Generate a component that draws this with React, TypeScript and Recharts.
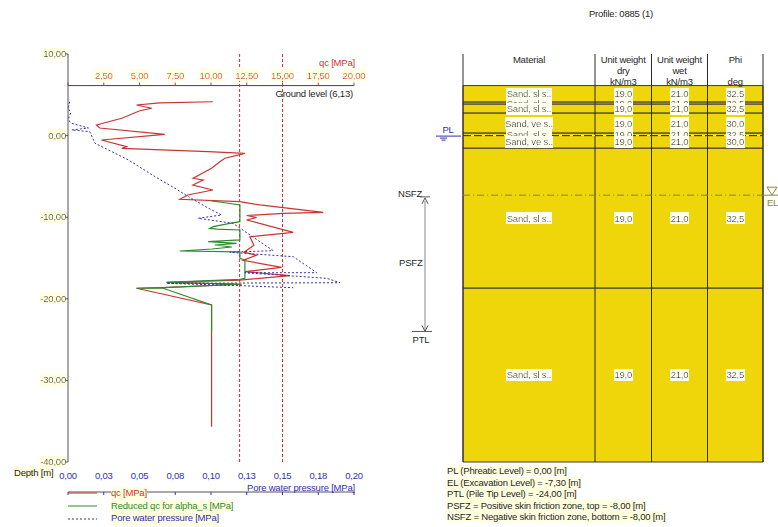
import React from 'react';
import {
  ScatterChart,
  Scatter,
  XAxis,
  YAxis,
  ReferenceLine,
  ReferenceArea,
  Legend,
} from 'recharts';

const FONT = '"Liberation Sans", Arial, sans-serif';
const RED = '#cc3333';
const GREEN = '#2e8b2e';
const BLUE = '#3030b0';
const YELLOW = '#efd60b';
const INK = '#262626';

// CPT readings: [depth m, qc MPa]
const qcReadings: [number, number][] = [
  [4.15, 10.13], [4.0, 6.42], [3.75, 4.79], [3.35, 5.86], [3.05, 5.02],
  [2.12, 3.76], [1.3, 1.99], [0.93, 2.22], [0.16, 6.77], [-0.54, 2.34],
  [-1.36, 4.09], [-1.56, 3.76], [-1.97, 9.8], [-2.17, 12.37], [-2.78, 10.97],
  [-3.2, 10.62], [-4.0, 10.04], [-5.23, 8.75], [-5.44, 9.45], [-6.05, 8.73],
  [-6.67, 10.13], [-7.28, 8.38], [-7.81, 7.82], [-8.1, 12.02], [-8.5, 13.42],
  [-9.4, 17.85], [-9.52, 15.05], [-9.79, 12.49], [-10.04, 13.19], [-10.34, 12.49],
  [-11.85, 15.75], [-12.39, 12.72], [-13.43, 13.0], [-14.29, 12.3], [-14.66, 13.19],
  [-15.29, 12.25], [-16.14, 14.94], [-16.68, 12.37], [-17.17, 15.52], [-17.7, 12.02],
  [-17.98, 6.89], [-18.22, 12.16], [-18.64, 6.65], [-18.71, 4.79], [-20.76, 10.04],
  [-35.67, 10.04],
];

// reduced qc for alpha_s: [depth m, qc MPa]
const reducedQcReadings: [number, number][] = [
  [-8.0, 10.04], [-8.2, 10.85], [-8.5, 12.02], [-10.55, 12.02], [-10.75, 11.32],
  [-11.16, 10.15], [-11.36, 9.92], [-11.45, 10.39], [-11.57, 12.02], [-12.79, 12.02],
  [-13.0, 9.8], [-13.2, 11.79], [-13.41, 10.27], [-13.65, 11.46], [-13.9, 10.06],
  [-14.14, 7.82], [-14.26, 12.02], [-15.04, 12.02], [-15.25, 12.37], [-17.49, 12.37],
  [-17.61, 12.02], [-17.98, 6.89], [-18.22, 12.02], [-18.64, 6.65], [-18.71, 4.79],
  [-18.71, 6.65], [-20.76, 10.04], [-24.0, 10.04],
];

// pore water pressure: [depth m, u MPa]
const poreReadings: [number, number][] = [
  [4.15, 0.0012], [3.38, 0.0001], [2.77, 0.0019], [2.16, 0.0005], [1.7, 0.0012],
  [1.51, 0.0026], [0.93, 0.0143], [0.69, 0.0026], [0.48, 0.0152], [-0.94, 0.0189],
  [-1.76, 0.0283], [-2.99, 0.0423], [-5.04, 0.0609], [-6.46, 0.0749], [-7.49, 0.0843],
  [-8.91, 0.0983], [-9.73, 0.1074], [-10.13, 0.091], [-10.75, 0.1153], [-13.0, 0.1342],
  [-14.1, 0.1435], [-14.3, 0.1132], [-14.84, 0.1575], [-16.8, 0.1739], [-16.8, 0.1237],
  [-17.49, 0.1809], [-18.03, 0.1902], [-18.1, 0.0689], [-18.39, 0.1202], [-18.64, 0.1575],
];

const depthTicks = [10, 0, -10, -20, -30, -40];
const depthLabels = ['10,00', '0,00', '-10,00', '-20,00', '-30,00', '-40,00'];
const qcTicks = [0, 2.5, 5, 7.5, 10, 12.5, 15, 17.5, 20];
const qcLabels = ['', '2,50', '5,00', '7,50', '10,00', '12,50', '15,00', '17,50', '20,00'];
const poreTicks = [0, 0.025, 0.05, 0.075, 0.1, 0.125, 0.15, 0.175, 0.2];
const poreLabels = ['0,00', '0,03', '0,05', '0,08', '0,10', '0,13', '0,15', '0,18', '0,20'];
const qcLimits = [12, 15];
const groundLevel = 6.13;

// soil profile
const layerTops = [6.13, 4.1, 3.85, 2.75, 0.3, 0.0, -1.55, -18.7];
const layerBottoms = [4.1, 3.85, 2.75, 0.3, 0.0, -1.55, -18.7, -40];
const layerMaterials = [
  'Sand, sl s..', 'Sand, sl s..', 'Sand, sl s..', 'Sand, ve s..',
  'Sand, sl s..', 'Sand, ve s..', 'Sand, sl s..', 'Sand, sl s..',
];
const unitWeightDry = [19, 19, 19, 19, 19, 19, 19, 19];
const unitWeightWet = [21, 21, 21, 21, 21, 21, 21, 21];
const phiValues = [32.5, 32.5, 32.5, 30, 32.5, 30, 32.5, 32.5];
const headerLines = [
  ['Material'],
  ['Unit weight', 'dry', 'kN/m3'],
  ['Unit weight', 'wet', 'kN/m3'],
  ['Phi', '', 'deg'],
];

const phreaticLevel = 0;
const excavationLevel = -7.3;
const pileTipLevel = -24;
const frictionBoundary = -8; // PSFZ top = NSFZ bottom

// table layout (x in table units = px)
const TABLE_W = 300;
const colEdges = [0, 132, 188.5, 244.5, TABLE_W];
const ZONE_X = -38;

const fmt = (v: number, d: number) => v.toFixed(d).replace('.', ',');

const notes = [
  `PL (Phreatic Level) = ${fmt(phreaticLevel, 2)} [m]`,
  `EL (Excavation Level) = ${fmt(excavationLevel, 2)} [m]`,
  `PTL (Pile Tip Level) = ${fmt(pileTipLevel, 2)} [m]`,
  `PSFZ = Positive skin friction zone, top = ${fmt(frictionBoundary, 2)} [m]`,
  `NSFZ = Negative skin friction zone, bottom = ${fmt(frictionBoundary, 2)} [m]`,
];

const legendSeries = [
  { name: 'qc [MPa]', color: RED, dash: undefined as string | undefined },
  { name: 'Reduced qc for alpha_s [MPa]', color: GREEN, dash: undefined },
  { name: 'Pore water pressure [MPa]', color: BLUE, dash: '2 2' },
];

const toPoints = (rows: [number, number][]) => rows.map(([y, x]) => ({ x, y }));
const qcPoints = toPoints(qcReadings);
const reducedPoints = toPoints(reducedQcReadings);
const porePoints = toPoints(poreReadings);
const qcTickPoints = qcTicks.map((x, i) => ({ x, y: groundLevel, label: qcLabels[i] }));

const headerPoints = headerLines.map((lines, c) => ({
  x: (colEdges[c] + colEdges[c + 1]) / 2,
  y: 10,
  lines,
}));

const cellPoints = layerTops.flatMap((top, i) => {
  const y = (top + layerBottoms[i]) / 2;
  const texts = [layerMaterials[i], fmt(unitWeightDry[i], 1), fmt(unitWeightWet[i], 1), fmt(phiValues[i], 1)];
  return texts.map((text, c) => ({ x: (colEdges[c] + colEdges[c + 1]) / 2, y, text }));
});

const levelPoints = [
  { x: 0, y: phreaticLevel, kind: 'PL' },
  { x: TABLE_W, y: excavationLevel, kind: 'EL' },
  { x: 0, y: frictionBoundary, kind: 'NSFZ' },
  { x: 0, y: (frictionBoundary + pileTipLevel) / 2, kind: 'PSFZ' },
  { x: 0, y: pileTipLevel, kind: 'PTL' },
];

const noMarker = () => <g />;

const DepthTick = (p: any) => (
  <text x={p.x} y={p.y + 3} textAnchor="end" fontSize={9.5} fill={INK} filter="url(#paleBg)">
    {depthLabels[depthTicks.indexOf(p.payload.value)]}
  </text>
);

const PoreTick = (p: any) => (
  <text x={p.x} y={p.y - 18} textAnchor="middle" fontSize={9.5} fill={BLUE}>
    {poreLabels[poreTicks.indexOf(p.payload.value)]}
  </text>
);

const QcTickLabel = (p: any) => (
  <g>
    <line x1={p.cx} x2={p.cx} y1={p.cy} y2={p.cy - 3} stroke={RED} />
    {p.payload.label && (
      <text x={p.cx} y={p.cy - 6.6} textAnchor="middle" fontSize={9.5} fill={RED} filter="url(#paleBg)">
        {p.payload.label}
      </text>
    )}
  </g>
);

const HeaderText = (p: any) => (
  <text textAnchor="middle" fontSize={9.5} fill={INK}>
    {p.payload.lines.map((l: string, k: number) => (
      <tspan key={k} x={p.cx} y={p.cy + 8.6 + 11 * k}>{l}</tspan>
    ))}
  </text>
);

const CellText = (p: any) => (
  <text x={p.cx} y={p.cy + 3.4} textAnchor="middle" fontSize={9.5} fill="#111" filter="url(#cellBg)">
    {p.payload.text}
  </text>
);

const LevelMark = (p: any) => {
  const { cx, cy } = p;
  const zx = cx + ZONE_X;
  switch (p.payload.kind) {
    case 'PL':
      return (
        <g stroke={BLUE} fill="none">
          <text x={cx - 15} y={cy - 2.3} textAnchor="middle" fontSize={9.5} fill={BLUE} stroke="none">PL</text>
          <line x1={cx - 27} x2={cx - 2} y1={cy + 0.5} y2={cy + 0.5} />
          <line x1={cx - 23} x2={cx - 16} y1={cy + 2.5} y2={cy + 2.5} />
          <line x1={cx - 21.5} x2={cx - 17.5} y1={cy + 4.5} y2={cy + 4.5} />
        </g>
      );
    case 'EL':
      return (
        <g stroke="#8c8c30" fill="none">
          <line x1={cx} x2={cx + 15} y1={cy} y2={cy} />
          <path d={`M${cx + 4},${cy - 8} L${cx + 14},${cy - 8} L${cx + 9},${cy} Z`} />
          <text x={cx + 9.5} y={cy + 11} textAnchor="middle" fontSize={9.5} fill="#8c8c30" stroke="none">EL</text>
        </g>
      );
    case 'NSFZ':
      return (
        <g stroke="#555" fill="none">
          <text x={zx - 3} y={cy - 3.5} textAnchor="end" fontSize={9.5} fill={INK} stroke="none">NSFZ</text>
          <line x1={zx - 5} x2={zx + 5} y1={cy - 4} y2={cy - 4} />
          <path d={`M${zx - 3},${cy + 3} L${zx},${cy - 3} L${zx + 3},${cy + 3}`} />
        </g>
      );
    case 'PSFZ':
      return (
        <text x={zx - 2.5} y={cy} textAnchor="end" fontSize={9.5} fill={INK}>PSFZ</text>
      );
    default:
      return (
        <g stroke="#555" fill="none">
          <line x1={zx - 13} x2={zx + 7} y1={cy} y2={cy} />
          <path d={`M${zx - 3},${cy - 6} L${zx},${cy} L${zx + 3},${cy - 6}`} />
          <text x={zx - 4} y={cy + 11.3} textAnchor="middle" fontSize={9.5} fill={INK} stroke="none">PTL</text>
        </g>
      );
  }
};

const renderLegend = () => (
  <div style={{ fontSize: 9.5, lineHeight: '12.7px' }}>
    {legendSeries.map((s) => (
      <div key={s.name} style={{ display: 'flex', alignItems: 'center', height: 12.7 }}>
        <svg width={29} height={4} style={{ display: 'block' }}>
          <line x1={0} x2={29} y1={2} y2={2} stroke={s.color} strokeDasharray={s.dash} />
        </svg>
        <span style={{ marginLeft: 14, color: s.color, background: '#ffffe0' }}>{s.name}</span>
      </div>
    ))}
  </div>
);

const GroundLabel = (props: any) => {
  const vb = props.viewBox;
  return (
    <text x={vb.x + vb.width - 1} y={vb.y + 11.2} textAnchor="end" fontSize={9.5} fill={INK}>
      {`Ground level (${fmt(groundLevel, 2)})`}
    </text>
  );
};

const abs = (left: number, top: number, extra: React.CSSProperties = {}): React.CSSProperties => ({
  position: 'absolute',
  left,
  top,
  whiteSpace: 'nowrap',
  lineHeight: '11px',
  ...extra,
});

export default function App() {
  return (
    <div
      style={{
        position: 'absolute',
        left: 0,
        top: 0,
        width: 778,
        height: 527,
        background: '#fff',
        fontFamily: FONT,
        fontSize: 9.5,
        letterSpacing: '-0.2px',
        color: INK,
        overflow: 'hidden',
      }}
    >
      <svg width={0} height={0} style={{ position: 'absolute' }}>
        <defs>
          <filter id="paleBg" x="0" y="0" width="1" height="1">
            <feFlood floodColor="#ffffe0" />
            <feComposite in="SourceGraphic" operator="over" />
          </filter>
          <filter id="cellBg" x="0" y="0" width="1" height="1">
            <feFlood floodColor="#fffff2" />
            <feComposite in="SourceGraphic" operator="over" />
          </filter>
        </defs>
      </svg>

      <div style={{ position: 'absolute', left: 0, top: 0 }}>
        <ScatterChart width={380} height={527} margin={{ top: 54, right: 26, bottom: 35, left: 8 }}>
          <XAxis xAxisId="qc" type="number" dataKey="x" domain={[0, 20]} ticks={qcTicks} hide />
          <XAxis
            xAxisId="u"
            type="number"
            dataKey="x"
            domain={[0, 0.2]}
            ticks={poreTicks}
            interval={0}
            height={30}
            tickSize={3}
            tickMargin={2}
            axisLine={{ stroke: '#555' }}
            tickLine={{ stroke: BLUE }}
            tick={PoreTick}
          />
          <YAxis
            type="number"
            dataKey="y"
            domain={[-40, 10]}
            ticks={depthTicks}
            interval={0}
            width={60}
            tickSize={2}
            tickMargin={0}
            axisLine={{ stroke: '#555' }}
            tickLine={{ stroke: '#555' }}
            tick={DepthTick}
          />
          <ReferenceLine xAxisId="qc" y={groundLevel} stroke="#444" label={GroundLabel} />
          {qcLimits.map((v) => (
            <ReferenceLine key={v} xAxisId="qc" x={v} stroke={RED} strokeDasharray="3 2" />
          ))}
          <Scatter
            name="qc [MPa]"
            data={qcPoints}
            xAxisId="qc"
            fill={RED}
            line={{ stroke: RED, strokeWidth: 1.2 }}
            lineType="joint"
            shape={noMarker}
            isAnimationActive={false}
          />
          <Scatter
            name="Reduced qc for alpha_s [MPa]"
            data={reducedPoints}
            xAxisId="qc"
            fill={GREEN}
            line={{ stroke: GREEN, strokeWidth: 1.2 }}
            lineType="joint"
            shape={noMarker}
            isAnimationActive={false}
          />
          <Scatter
            name="Pore water pressure [MPa]"
            data={porePoints}
            xAxisId="u"
            fill={BLUE}
            line={{ stroke: BLUE, strokeWidth: 1, strokeDasharray: '2 2' }}
            lineType="joint"
            shape={noMarker}
            isAnimationActive={false}
          />
          <Scatter
            data={qcTickPoints}
            xAxisId="qc"
            shape={QcTickLabel}
            legendType="none"
            isAnimationActive={false}
          />
          <Legend
            layout="horizontal"
            verticalAlign="middle"
            align="center"
            wrapperStyle={{ left: 68, top: 487, width: 290 }}
            content={renderLegend}
          />
        </ScatterChart>
      </div>

      <div style={{ position: 'absolute', left: 380, top: 0 }}>
        <ScatterChart width={398} height={527} margin={{ top: 54, right: 15, bottom: 65, left: 83 }}>
          <XAxis type="number" dataKey="x" domain={[0, TABLE_W]} hide />
          <YAxis type="number" dataKey="y" domain={[-40, 10]} hide />
          {layerTops.map((top, i) => (
            <ReferenceArea
              key={i}
              x1={0}
              x2={TABLE_W}
              y1={layerBottoms[i]}
              y2={top}
              fill={YELLOW}
              fillOpacity={1}
              stroke="#3a3a3a"
              strokeWidth={1}
            />
          ))}
          {colEdges.map((x) => (
            <ReferenceLine key={x} x={x} stroke="#2a2a2a" />
          ))}
          <ReferenceLine y={excavationLevel} stroke="#80805a" strokeDasharray="7 3 1 3" />
          <ReferenceLine y={phreaticLevel} stroke="#fff" />
          <ReferenceLine y={phreaticLevel} stroke="#222" strokeDasharray="8 3" />
          <ReferenceLine
            segment={[{ x: ZONE_X, y: frictionBoundary }, { x: ZONE_X, y: pileTipLevel }]}
            stroke="#888"
            ifOverflow="visible"
          />
          <Scatter data={headerPoints} shape={HeaderText} isAnimationActive={false} />
          <Scatter data={cellPoints} shape={CellText} isAnimationActive={false} />
          <Scatter data={levelPoints} shape={LevelMark} isAnimationActive={false} />
        </ScatterChart>
      </div>

      <div style={abs(0, 57, { width: 355, textAlign: 'right', color: RED })}>qc [MPa]</div>
      <div style={abs(14, 467)}>
        <span style={{ background: '#ffffe0' }}>Depth [m]</span>
      </div>
      <div style={abs(0, 482, { width: 355, textAlign: 'right', color: BLUE })}>Pore water pressure [MPa]</div>
      <div style={abs(380, 8, { width: 482, textAlign: 'center' })}>Profile: 0885 (1)</div>
      <div style={abs(447, 465, { lineHeight: '11.5px' })}>
        {notes.map((n) => (
          <div key={n}>
            <span style={{ background: '#ffffe0' }}>{n}</span>
          </div>
        ))}
      </div>
    </div>
  );
}
